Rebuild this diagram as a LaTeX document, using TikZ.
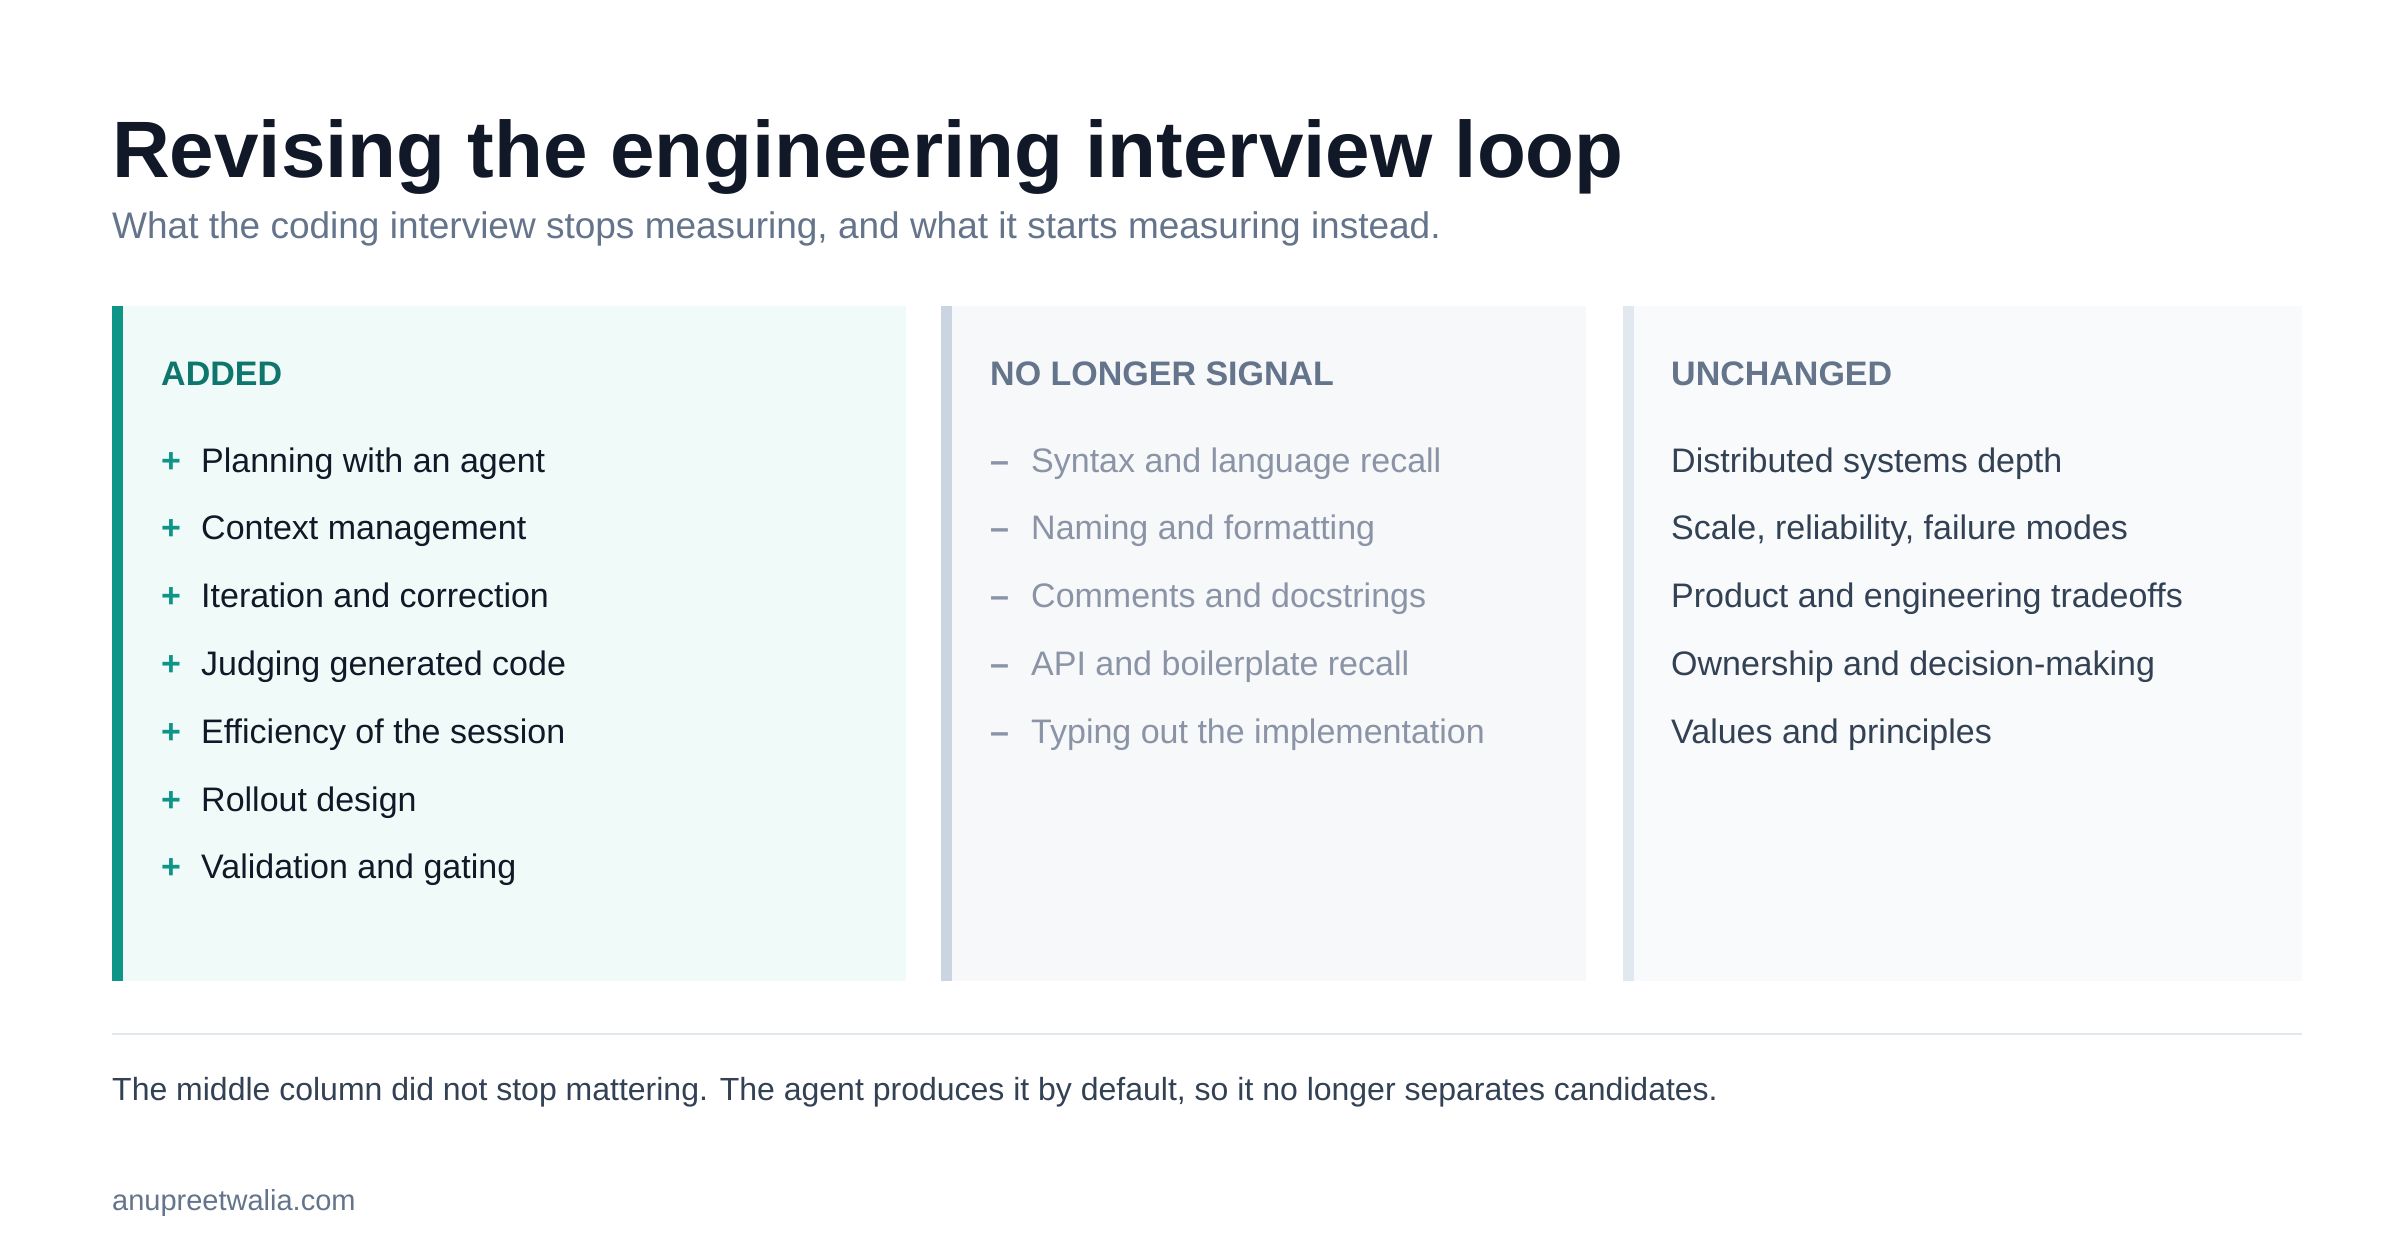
\documentclass[tikz,border=0pt]{standalone}
\usepackage{fontspec}
\setmainfont{Liberation Sans}
\definecolor{ink}{HTML}{111827}
\definecolor{sub}{HTML}{64748B}
\definecolor{teal}{HTML}{0F9488}
\definecolor{tealdk}{HTML}{0F766E}
\definecolor{bgA}{HTML}{F0FAF8}
\definecolor{bgB}{HTML}{F6F8FA}
\definecolor{bgC}{HTML}{F9FAFB}
\definecolor{barB}{HTML}{CBD5E1}
\definecolor{barC}{HTML}{E2E8F0}
\definecolor{slate}{HTML}{334155}
\definecolor{faded}{HTML}{8A94A6}
\begin{document}
\begin{tikzpicture}[x=1pt,y=-1pt,
  txt/.style={anchor=base west,inner sep=0pt,font=\fontsize{34}{40}\selectfont},
  head/.style={anchor=base west,inner sep=0pt,font=\fontsize{34}{40}\selectfont\bfseries}]
\useasboundingbox (0,0) rectangle (2400,1256);
\fill[white] (0,0) rectangle (2400,1256);
\node[anchor=base west,inner sep=0pt,text=ink,font=\fontsize{80}{90}\selectfont\bfseries] (title) at (112,177) {Revising the engineering interview loop};
\node[anchor=base west,inner sep=0pt,text=sub,font=\fontsize{37}{44}\selectfont] (subtitle) at (112,238) {What the coding interview stops measuring, and what it starts measuring instead.};
% panels
\fill[bgA] (112,306) rectangle (906,981);
\fill[teal] (112,306) rectangle (123,981);
\fill[bgB] (941,306) rectangle (1586,981);
\fill[barB] (941,306) rectangle (952,981);
\fill[bgC] (1623,306) rectangle (2302,981);
\fill[barC] (1623,306) rectangle (1634,981);
\node[head,text=tealdk] (hA) at (161,385) {ADDED};
\node[head,text=sub] (hB) at (990,385) {NO LONGER SIGNAL};
\node[head,text=sub] (hC) at (1671,385) {UNCHANGED};
\foreach \t [count=\i from 0] in {Planning with an agent,Context management,Iteration and correction,Judging generated code,Efficiency of the session,Rollout design,Validation and gating}{
  \node[txt,text=teal,font=\fontsize{34}{40}\selectfont\bfseries] (pA\i) at (161,472+67.8*\i) {+};
  \node[txt,text=ink] (iA\i) at (201,472+67.8*\i) {\t};
}
\foreach \t [count=\i from 0] in {Syntax and language recall,Naming and formatting,Comments and docstrings,API and boilerplate recall,Typing out the implementation}{
  \node[txt,text=faded,font=\fontsize{34}{40}\selectfont\bfseries] (pB\i) at (990,472+67.8*\i) {\textendash};
  \node[txt,text=faded] (iB\i) at (1031,472+67.8*\i) {\t};
}
\foreach \t [count=\i from 0] in {Distributed systems depth,{Scale, reliability, failure modes},Product and engineering tradeoffs,Ownership and decision-making,Values and principles}{
  \node[txt,text=slate] (iC\i) at (1671,472+67.8*\i) {\t};
}
\draw[barC,line width=1.5pt] (112,1034) -- (2302,1034);
\node[anchor=base west,inner sep=0pt,text=slate,font=\fontsize{32}{38}\selectfont] (foot) at (112,1100) {The middle column did not stop mattering. The agent produces it by default, so it no longer separates candidates.};
\node[anchor=base west,inner sep=0pt,text=sub,font=\fontsize{29}{34}\selectfont] (url) at (112,1210) {anupreetwalia.com};
\end{tikzpicture}
\end{document}
